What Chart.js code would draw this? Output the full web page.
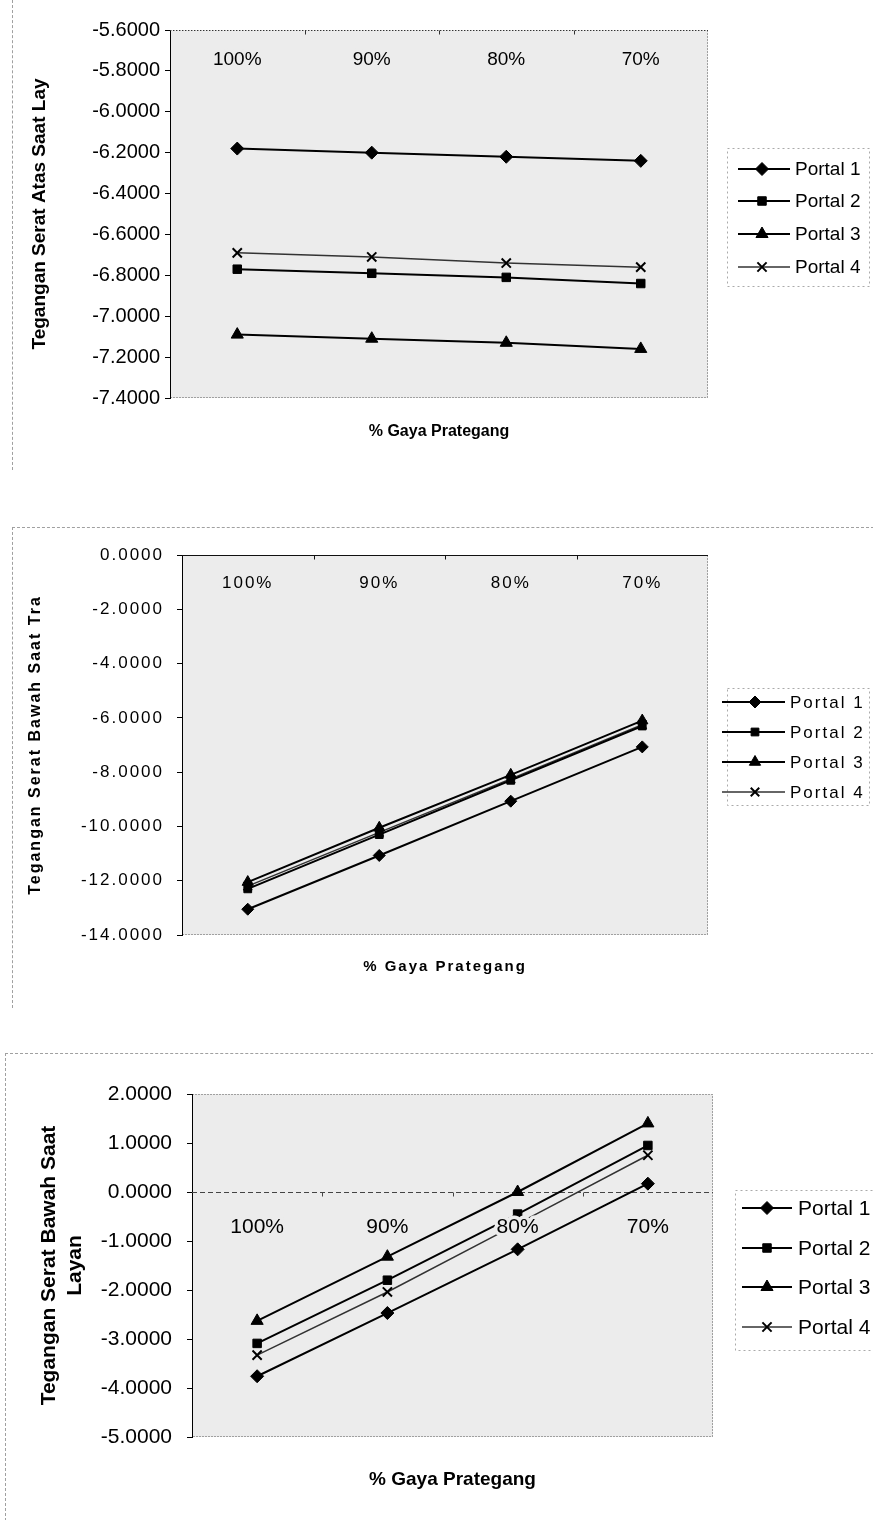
<!DOCTYPE html>
<html>
<head>
<meta charset="utf-8">
<title>Tegangan Serat - % Gaya Prategang</title>
<script src="https://cdn.jsdelivr.net/npm/chart.js@4.4.1/dist/chart.umd.min.js"></script>
<style>
  body { margin: 0; background: #fff; width: 873px; height: 1520px; position: relative; overflow: hidden; }
  .box { position: absolute; left: 0; width: 873px; }
  canvas { display: block; }
  .frame { position: absolute; border: 0 dashed #a0a0a0; }
</style>
</head>
<body>
<div class="frame" style="left:12px;top:0;height:470px;border-left-width:1px"></div>
<div class="frame" style="left:12px;top:527px;width:861px;height:480px;border-left-width:1px;border-top-width:1px"></div>
<div class="frame" style="left:5px;top:1053px;width:868px;height:467px;border-left-width:1px;border-top-width:1px"></div>

<div class="box" style="top:0"><canvas id="chartAtasLayan" width="873" height="470"></canvas></div>
<div class="box" style="top:480px"><canvas id="chartBawahTransfer" width="873" height="520"></canvas></div>
<div class="box" style="top:1040px"><canvas id="chartBawahLayan" width="873" height="480"></canvas></div>

<script>
var categories = ['100%', '90%', '80%', '70%'];
var seriesNames = ['Portal 1', 'Portal 2', 'Portal 3', 'Portal 4'];

// Tegangan serat atas saat layan
var atasLayanP1 = [-6.18, -6.20, -6.22, -6.24];
var atasLayanP2 = [-6.77, -6.79, -6.81, -6.84];
var atasLayanP3 = [-7.09, -7.11, -7.13, -7.16];
var atasLayanP4 = [-6.69, -6.71, -6.74, -6.76];
var atasLayanTicks = [-5.6, -5.8, -6.0, -6.2, -6.4, -6.6, -6.8, -7.0, -7.2, -7.4];

// Tegangan serat bawah saat transfer
var bawahTransferP1 = [-13.05, -11.07, -9.07, -7.07];
var bawahTransferP2 = [-12.30, -10.30, -8.30, -6.30];
var bawahTransferP3 = [-12.05, -10.05, -8.10, -6.10];
var bawahTransferP4 = [-12.20, -10.22, -8.25, -6.25];
var bawahTransferTicks = [0, -2, -4, -6, -8, -10, -12, -14];

// Tegangan serat bawah saat layan
var bawahLayanP1 = [-3.76, -2.47, -1.17, 0.17];
var bawahLayanP2 = [-3.09, -1.80, -0.45, 0.95];
var bawahLayanP3 = [-2.63, -1.32, 0.00, 1.40];
var bawahLayanP4 = [-3.33, -2.04, -0.65, 0.75];
var bawahLayanTicks = [2, 1, 0, -1, -2, -3, -4, -5];

var pointStyles = ['rectRot', 'rect', 'triangle', 'crossRot'];
var FONT = "'Liberation Sans', Arial, sans-serif";

function fmt(v) {
  if (Math.abs(v) < 1e-9) v = 0;
  return v.toFixed(4);
}

function marker(ctx, style, r, x, y) {
  ctx.save();
  ctx.fillStyle = '#000';
  ctx.strokeStyle = '#000';
  ctx.lineWidth = style === 'crossRot' ? 2 : 1;
  Chart.helpers.drawPoint(ctx, { pointStyle: style, radius: r, rotation: 0, borderWidth: ctx.lineWidth }, x, y);
  ctx.restore();
}

// plot background, category axis, category labels, x title and legend
var decor = {
  id: 'decor',
  beforeUpdate: function (chart) {
    chart.ctx.letterSpacing = chart.options.plugins.decor.spacing;
  },
  beforeDraw: function (chart, args, o) {
    var ctx = chart.ctx, a = chart.chartArea;
    ctx.letterSpacing = o.spacing;
    ctx.save();
    ctx.fillStyle = '#ececec';
    ctx.fillRect(a.left, a.top, a.right - a.left, a.bottom - a.top);
    ctx.strokeStyle = '#555';
    ctx.lineWidth = 1;
    ctx.setLineDash([1, 2]);
    ctx.strokeRect(a.left + 0.5, a.top + 0.5, a.right - a.left - 1, a.bottom - a.top - 1);
    ctx.restore();
  },
  beforeDatasetsDraw: function (chart, args, o) {
    var ctx = chart.ctx, a = chart.chartArea, x = chart.scales.x;
    var y0 = Math.round(chart.scales.y.getPixelForValue(o.crossValue)) + 0.5;
    ctx.save();
    ctx.strokeStyle = o.axisColor;
    ctx.lineWidth = 1;
    ctx.setLineDash(o.axisDash);
    ctx.beginPath();
    ctx.moveTo(a.left, y0);
    ctx.lineTo(a.right, y0);
    ctx.stroke();
    ctx.setLineDash([]);
    for (var i = 0; i < categories.length - 1; i++) {
      var bx = Math.round((x.getPixelForValue(i) + x.getPixelForValue(i + 1)) / 2) + 0.5;
      ctx.beginPath();
      ctx.moveTo(bx, y0);
      ctx.lineTo(bx, y0 + 4);
      ctx.stroke();
    }
    ctx.restore();
  },
  afterDatasetsDraw: function (chart, args, o) {
    var ctx = chart.ctx, x = chart.scales.x;
    var yl = chart.scales.y.getPixelForValue(o.crossValue) + o.catOffset;
    ctx.save();
    ctx.font = o.catFont;
    ctx.textAlign = 'center';
    ctx.textBaseline = 'middle';
    ctx.lineJoin = 'round';
    categories.forEach(function (c, i) {
      var px = x.getPixelForValue(i);
      ctx.strokeStyle = '#ececec';
      ctx.lineWidth = 7;
      ctx.strokeText(c, px, yl);
      ctx.fillStyle = '#000';
      ctx.fillText(c, px, yl);
    });
    ctx.restore();
  },
  afterDraw: function (chart, args, o) {
    var ctx = chart.ctx, a = chart.chartArea, lg = o.legend;
    ctx.save();
    ctx.fillStyle = '#000';
    ctx.font = o.xTitleFont;
    ctx.textAlign = 'center';
    ctx.textBaseline = 'middle';
    ctx.fillText('% Gaya Prategang', (a.left + a.right) / 2, o.xTitleY);

    // legend frame
    ctx.strokeStyle = '#aaa';
    ctx.lineWidth = 1;
    ctx.setLineDash([2, 3]);
    ctx.strokeRect(lg.box[0] + 0.5, lg.box[1] + 0.5, lg.box[2], lg.box[3]);
    ctx.setLineDash([]);

    ctx.font = lg.font;
    ctx.textAlign = 'left';
    chart.data.datasets.forEach(function (ds, i) {
      var ry = lg.rows[i];
      ctx.strokeStyle = ds.borderColor;
      ctx.lineWidth = ds.borderWidth;
      ctx.beginPath();
      ctx.moveTo(lg.x1, ry);
      ctx.lineTo(lg.x2, ry);
      ctx.stroke();
      marker(ctx, ds.pointStyle, ds.pointRadius, lg.mx, ry);
      ctx.fillStyle = '#000';
      ctx.fillText(ds.label, lg.tx, ry + 1);
    });
    ctx.restore();
  }
};

function buildDatasets(rows, radius) {
  return rows.map(function (data, i) {
    return {
      label: seriesNames[i],
      data: data,
      borderColor: i === 3 ? '#333' : '#000',
      borderWidth: i === 3 ? 1.5 : 2,
      pointStyle: pointStyles[i],
      pointRadius: radius[i],
      pointBorderWidth: i === 3 ? 2 : 1,
      pointBackgroundColor: '#000',
      pointBorderColor: '#000',
      tension: 0,
      fill: false
    };
  });
}

function makeChart(id, rows, ticks, s) {
  return new Chart(document.getElementById(id), {
    type: 'line',
    data: { labels: categories, datasets: buildDatasets(rows, s.radius) },
    options: {
      responsive: false,
      animation: false,
      layout: { padding: s.pad },
      plugins: { legend: { display: false }, tooltip: { enabled: false }, decor: s },
      scales: {
        x: { display: false, offset: true },
        y: {
          min: ticks[ticks.length - 1],
          max: ticks[0],
          afterBuildTicks: function (sc) {
            sc.ticks = ticks.map(function (v) { return { value: v }; });
          },
          afterFit: function (sc) { sc.width = s.axisWidth; },
          ticks: {
            color: '#000',
            padding: s.tickPad,
            font: { family: FONT, size: s.tickSize },
            callback: function (v) { return fmt(v); }
          },
          grid: { drawOnChartArea: false, tickLength: 5, color: '#000' },
          border: { color: '#000', width: 1 },
          title: {
            display: true,
            text: s.yTitle,
            color: '#000',
            font: { family: FONT, size: s.yTitleSize, weight: 'bold' },
            padding: { top: s.yTitlePad, bottom: 0 }
          }
        }
      }
    },
    plugins: [decor]
  });
}

makeChart('chartAtasLayan', [atasLayanP1, atasLayanP2, atasLayanP3, atasLayanP4], atasLayanTicks, {
  spacing: '0px',
  pad: { top: 30, bottom: 72, right: 165, left: 0 },
  axisWidth: 170, tickPad: 5, tickSize: 20,
  yTitle: 'Tegangan Serat Atas Saat Lay', yTitleSize: 19, yTitlePad: 28,
  radius: [6.5, 6, 7, 6.5],
  crossValue: -5.6, axisColor: '#333', axisDash: [1, 2], catOffset: 30,
  catFont: '19px ' + FONT,
  xTitleFont: 'bold 16px ' + FONT, xTitleY: 432,
  legend: { x1: 738, x2: 790, mx: 762, tx: 795, rows: [169, 201, 234, 267], font: '19px ' + FONT, box: [727, 148, 142, 138] }
});

makeChart('chartBawahTransfer', [bawahTransferP1, bawahTransferP2, bawahTransferP3, bawahTransferP4], bawahTransferTicks, {
  spacing: '2px',
  pad: { top: 75, bottom: 65, right: 165, left: 0 },
  axisWidth: 182, tickPad: 13, tickSize: 17,
  yTitle: 'Tegangan Serat Bawah Saat Tra', yTitleSize: 16, yTitlePad: 26,
  radius: [6, 5.5, 6.5, 6],
  crossValue: 0, axisColor: '#111', axisDash: [], catOffset: 28,
  catFont: '17px ' + FONT,
  xTitleFont: 'bold 15px ' + FONT, xTitleY: 487,
  legend: { x1: 722, x2: 785, mx: 755, tx: 790, rows: [222, 252, 282, 312], font: '17px ' + FONT, box: [727, 208, 142, 117] }
});

makeChart('chartBawahLayan', [bawahLayanP1, bawahLayanP2, bawahLayanP3, bawahLayanP4], bawahLayanTicks, {
  spacing: '0px',
  pad: { top: 54, bottom: 83, right: 160, left: 0 },
  axisWidth: 192, tickPad: 15, tickSize: 21,
  yTitle: ['Tegangan Serat Bawah Saat', 'Layan'], yTitleSize: 21, yTitlePad: 37,
  radius: [6.5, 6, 7, 6.5],
  crossValue: 0, axisColor: '#444', axisDash: [5, 3], catOffset: 35,
  catFont: '21px ' + FONT,
  xTitleFont: 'bold 19px ' + FONT, xTitleY: 440,
  legend: { x1: 742, x2: 792, mx: 767, tx: 798, rows: [168, 208, 247, 287], font: '21px ' + FONT, box: [735, 150, 140, 160] }
});
</script>
</body>
</html>
